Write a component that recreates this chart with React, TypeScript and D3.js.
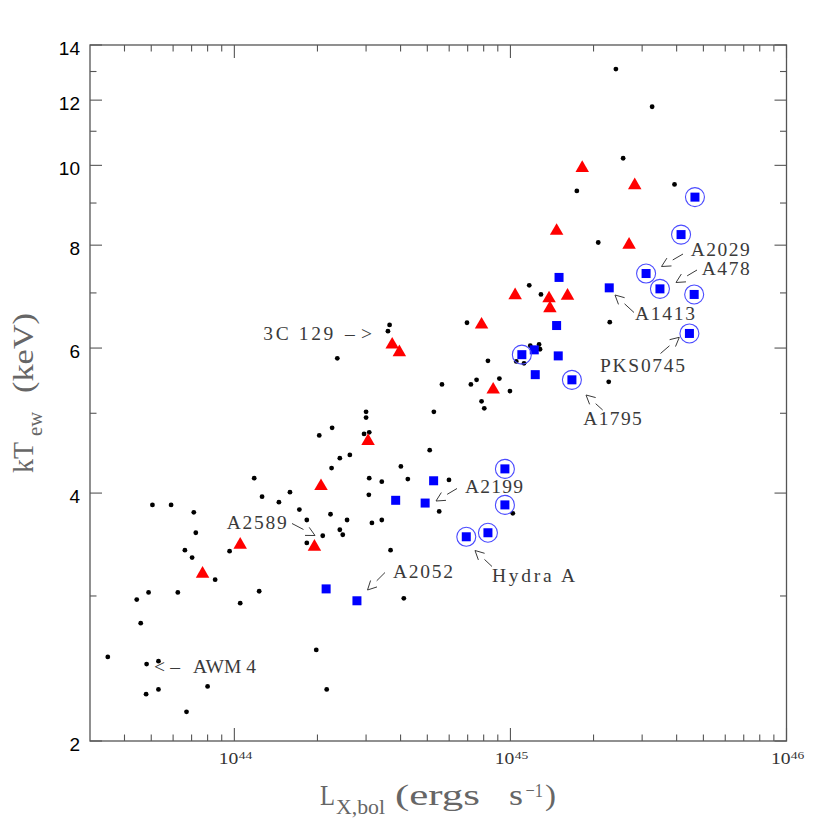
import React from 'react';
import * as d3 from 'd3';

// L_X,bol in units of 1e44 erg/s ; kT_ew in keV
const dotLx = [
  24.1, 32.6, 25.6, 39.3, 17.4, 20.8, 11.7, 12.9, 22.9, 6.96,
  22.7, 11.8, 12.7, 12.8, 10.5, 11.2, 8.29, 9.12, 9.96, 7.54,
  7.19, 5.65, 7.86, 8.04, 5.28, 3.65, 3.6, 2.36, 3.0, 3.0,
  2.26, 2.03, 2.95, 3.08, 5.1, 2.41, 2.62, 2.25, 4.01, 3.08,
  3.42, 4.25, 5.99, 3.07, 5.52, 10.2, 2.23, 2.56, 3.15, 3.42,
  2.41, 2.47, 3.68, 4.11, 1.18, 1.26, 1.45, 1.59, 1.72, 1.83,
  2.09, 1.83, 0.961, 0.852, 1.23, 1.05, 0.505, 0.59, 0.713, 0.725,
  0.662, 0.703, 0.489, 0.624, 0.443, 0.458, 0.348, 0.481, 0.531, 0.479,
  0.531, 0.8, 0.671, 1.98, 2.16,
];
const dotKT = [
  13.09, 11.78, 10.2, 9.48, 9.31, 8.06, 7.15, 6.97, 6.45, 6.44,
  5.46, 6.04, 6.06, 5.98, 5.78, 5.75, 5.79, 5.51, 5.32, 5.49,
  5.42, 5.42, 5.17, 5.07, 5.02, 6.4, 6.29, 5.83, 5.02, 4.94,
  4.8, 4.7, 4.72, 4.74, 4.51, 4.41, 4.45, 4.29, 4.31, 4.17,
  4.13, 4.16, 4.15, 3.98, 3.8, 3.78, 3.77, 3.71, 3.68, 3.71,
  3.61, 3.56, 3.41, 2.98, 4.17, 3.96, 3.9, 4.01, 3.82, 3.71,
  3.55, 3.48, 3.4, 3.14, 3.04, 2.94, 3.87, 3.87, 3.79, 3.58,
  3.41, 3.34, 3.03, 3.03, 2.97, 2.78, 2.53, 2.48, 2.5, 2.28,
  2.31, 2.33, 2.17, 2.58, 2.31,
];

const triLx = [18.2, 28.2, 14.7, 26.9, 10.4, 13.8, 16.1, 13.9, 7.86, 3.73, 3.96, 8.66, 3.05, 2.06, 1.05, 1.95, 0.767];
const triKT = [9.98, 9.51, 8.37, 8.05, 6.99, 6.93, 6.98, 6.74, 6.44, 6.09, 5.96, 5.37, 4.65, 4.1, 3.48, 3.46, 3.21];

const sqLx = [15.0, 22.8, 14.7, 12.2, 14.9, 12.3, 5.27, 3.84, 4.91, 2.15, 2.78];
const sqKT = [7.31, 7.1, 6.39, 5.97, 5.87, 5.57, 4.14, 3.92, 3.89, 3.06, 2.96];

const circLx = [46.6, 41.5, 31.0, 34.8, 46.3, 44.5, 11.0, 16.7, 9.55, 9.55, 6.92, 8.29];
const circKT = [9.15, 8.24, 7.39, 7.08, 6.97, 6.25, 5.89, 5.49, 4.28, 3.87, 3.54, 3.58];

const xMajor = [1, 10, 100];
const xMajorExp = ['44', '45', '46'];
const xMinor = [0.4, 0.5, 0.6, 0.7, 0.8, 0.9, 2, 3, 4, 5, 6, 7, 8, 9, 20, 30, 40, 50, 60, 70, 80, 90];
const yMajor = [2, 4, 6, 8, 10, 12, 14];
const yMinor = [3, 5, 7, 9, 11, 13];

// annotation layout (pixels)
const notes = [
  { t: 'A2029', x: 690.7, y: 255.5, len: 59, tail: [683, 254], tip: [661.5, 266.5] },
  { t: 'A478', x: 701.7, y: 274.5, len: 48, tail: [697, 270], tip: [676, 282.5] },
  { t: 'A1413', x: 635, y: 320, len: 60, tail: [634, 312.5], tip: [615, 295] },
  { t: 'PKS0745', x: 600, y: 371.5, len: 85, tail: [660.5, 353.5], tip: [679.3, 337.3] },
  { t: 'A1795', x: 583.3, y: 425, len: 58.5, tail: [602.7, 410], tip: [586, 395] },
  { t: 'A2199', x: 465, y: 493, len: 58, tail: [457, 488.5], tip: [436, 501] },
  { t: 'A2052', x: 393, y: 578, len: 60, tail: [385, 572.5], tip: [367.5, 590] },
  { t: 'Hydra A', x: 492, y: 581.5, len: 83, tail: [492, 566.5], tip: [475, 550.5] },
  { t: 'A2589', x: 226.7, y: 529, len: 60, tail: [292, 523.5], tip: [315, 535.5] },
  { t: '3C 129', x: 263.3, y: 339.5, len: 70, tail: null, tip: null },
  { t: '–>', x: 345, y: 339.5, len: 27, tail: null, tip: null },
  { t: '<–', x: 154, y: 673, len: 26, tail: null, tip: null },
  { t: 'AWM 4', x: 193, y: 673, len: 63, tail: null, tip: null },
];

const L = 90, R = 786.5, T = 45, B = 741;
const AX = '#555';
const NOTE = '#3a3a3a';
const TITLE = '#666';

function Arrow({ tail, tip }: { tail: number[]; tip: number[] }) {
  const dx = tail[0] - tip[0];
  const dy = tail[1] - tip[1];
  const len = Math.hypot(dx, dy);
  const ux = dx / len, uy = dy / len;
  const sEnd = [tip[0] + ux * 13, tip[1] + uy * 13];
  const a = (27 * Math.PI) / 180;
  const hl = 10;
  const rot = (ang: number) => [
    tip[0] + hl * (ux * Math.cos(ang) - uy * Math.sin(ang)),
    tip[1] + hl * (ux * Math.sin(ang) + uy * Math.cos(ang)),
  ];
  const p1 = rot(a), p2 = rot(-a);
  return (
    <g stroke={NOTE} strokeWidth={1} fill="none">
      <line x1={tail[0]} y1={tail[1]} x2={sEnd[0]} y2={sEnd[1]} />
      <polyline points={`${p1[0]},${p1[1]} ${tip[0]},${tip[1]} ${p2[0]},${p2[1]}`} />
    </g>
  );
}

export default function App() {
  const x = d3.scaleLog().domain([0.3, 100]).range([L, R]);
  const y = d3.scaleLog().domain([2, 14]).range([B, T]);

  const triPath = (cx: number, cy: number) => {
    const s = 13.5, h = 11.7;
    return `M${cx},${cy - h / 2}L${cx + s / 2},${cy + h / 2}L${cx - s / 2},${cy + h / 2}Z`;
  };
  const sq = 9;
  const titleFont = 'Liberation Serif, serif';

  return (
    <svg width={830} height={830} style={{ position: 'absolute', left: 0, top: 0, background: '#fff' }}>
      <rect x={0} y={0} width={830} height={830} fill="#fff" />
      {/* frame */}
      <rect x={L} y={T} width={R - L} height={B - T} fill="none" stroke={AX} strokeWidth={1.3} />
      {/* ticks */}
      <g stroke={AX} strokeWidth={1.1}>
        {xMajor.map((v) => (
          <g key={'xM' + v}>
            <line x1={x(v)} x2={x(v)} y1={B} y2={B - 13} />
            <line x1={x(v)} x2={x(v)} y1={T} y2={T + 13} />
          </g>
        ))}
        {xMinor.map((v) => (
          <g key={'xm' + v}>
            <line x1={x(v)} x2={x(v)} y1={B} y2={B - 6.5} />
            <line x1={x(v)} x2={x(v)} y1={T} y2={T + 6.5} />
          </g>
        ))}
        {yMajor.map((v) => (
          <g key={'yM' + v}>
            <line x1={L} x2={L + 12} y1={y(v)} y2={y(v)} />
            <line x1={R} x2={R - 12} y1={y(v)} y2={y(v)} />
          </g>
        ))}
        {yMinor.map((v) => (
          <g key={'ym' + v}>
            <line x1={L} x2={L + 6.5} y1={y(v)} y2={y(v)} />
            <line x1={R} x2={R - 6.5} y1={y(v)} y2={y(v)} />
          </g>
        ))}
      </g>
      {/* y tick labels */}
      {yMajor.map((v) => (
        <text key={'yl' + v} x={80} y={y(v) + 9.8} textAnchor="end" fontFamily="Liberation Sans, Arial, sans-serif" fontSize={19} fill="#000">
          {v}
        </text>
      ))}
      {/* x tick labels */}
      {xMajor.map((v, i) => (
        <g key={'xl' + v} fontFamily="Liberation Serif, serif" fill="#333">
          <text x={x(v) - 15.6} y={764} fontSize={17} textLength={19.6} lengthAdjust="spacingAndGlyphs">10</text>
          <text x={x(v) + 4.3} y={759.3} fontSize={11} textLength={13.5} lengthAdjust="spacingAndGlyphs">{xMajorExp[i]}</text>
        </g>
      ))}
      {/* axis titles */}
      <g fontFamily={titleFont} fill={TITLE}>
        <text x={320} y={805} fontSize={30} textLength={15} lengthAdjust="spacingAndGlyphs">L</text>
        <text x={336} y={814} fontSize={20} textLength={49} lengthAdjust="spacingAndGlyphs">X,bol</text>
        <text x={395} y={805} fontSize={30} textLength={85} lengthAdjust="spacingAndGlyphs">(ergs</text>
        <text x={509} y={805} fontSize={30} textLength={14} lengthAdjust="spacingAndGlyphs">s</text>
        <text x={525.5} y={797} fontSize={19} textLength={17.5} lengthAdjust="spacingAndGlyphs">−1</text>
        <text x={545} y={805} fontSize={30} textLength={11} lengthAdjust="spacingAndGlyphs">)</text>

        <text transform="translate(33,473) rotate(-90)" fontSize={30} textLength={31} lengthAdjust="spacingAndGlyphs">kT</text>
        <text transform="translate(42,436) rotate(-90)" fontSize={20} textLength={24} lengthAdjust="spacingAndGlyphs">ew</text>
        <text transform="translate(33,393) rotate(-90)" fontSize={30} textLength={80} lengthAdjust="spacingAndGlyphs">(keV)</text>
      </g>
      {/* black dots */}
      <g fill="#000">
        {dotLx.map((v, i) => (
          <circle key={'d' + i} cx={x(v)} cy={y(dotKT[i])} r={2.4} />
        ))}
      </g>
      {/* red triangles */}
      <g fill="#ff0000">
        {triLx.map((v, i) => (
          <path key={'t' + i} d={triPath(x(v), y(triKT[i]))} />
        ))}
      </g>
      {/* blue squares */}
      <g fill="#0000ff">
        {sqLx.map((v, i) => (
          <rect key={'s' + i} x={x(v) - sq / 2} y={y(sqKT[i]) - sq / 2} width={sq} height={sq} />
        ))}
      </g>
      {/* circled blue squares */}
      <g>
        {circLx.map((v, i) => (
          <g key={'c' + i}>
            <circle cx={x(v)} cy={y(circKT[i])} r={9.5} fill="none" stroke="#4b4bff" strokeWidth={1.1} />
            <rect x={x(v) - sq / 2} y={y(circKT[i]) - sq / 2} width={sq} height={sq} fill="#0000ff" />
          </g>
        ))}
      </g>
      {/* annotations */}
      <g fontFamily="Liberation Serif, serif" fontSize={19.5} fill={NOTE}>
        {notes.map((n, i) => (
          <g key={'n' + i}>
            <text x={n.x} y={n.y} textLength={n.len} lengthAdjust="spacing">{n.t}</text>
            {n.tail && n.tip ? <Arrow tail={n.tail} tip={n.tip} /> : null}
          </g>
        ))}
      </g>
    </svg>
  );
}
